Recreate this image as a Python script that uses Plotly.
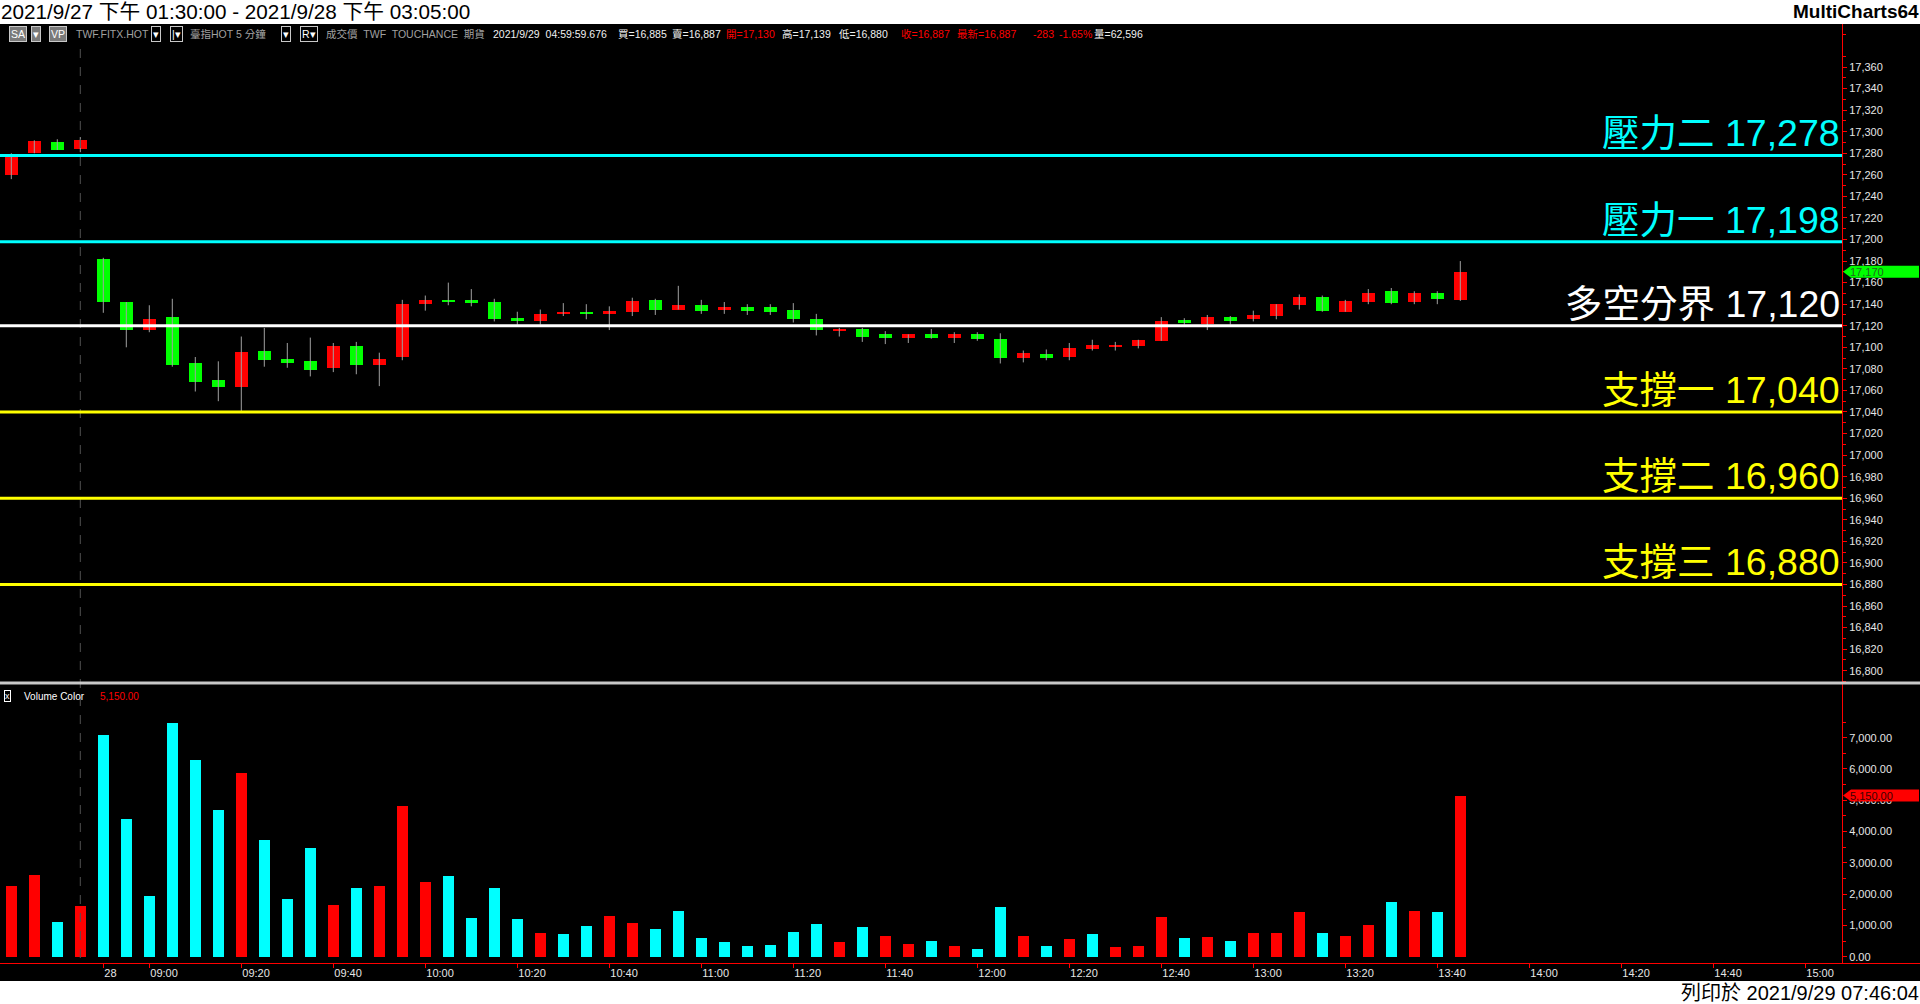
import plotly.graph_objects as go

W, H = 1920, 1004

# ---------------- data ----------------
prev_times = ["13:30", "13:35", "13:40", "13:45"]          # 2021/9/27 session tail

opens = [17260, 17280, 17290, 17284, 17182, 17142, 17116, 17128, 17085, 17070,
         17063, 17097, 17089, 17087, 17081, 17101, 17084, 17091, 17140, 17144,
         17144, 17142, 17127, 17124, 17131, 17133, 17131, 17133, 17144, 17135,
         17139, 17135, 17137, 17137, 17135, 17126, 17115, 17117, 17112, 17109,
         17112, 17109, 17112, 17108, 17090, 17094, 17091, 17098, 17100, 17101,
         17106, 17125, 17122, 17128, 17126, 17129, 17139, 17147, 17133, 17142,
         17152, 17142, 17150, 17144]
highs = [17280, 17292, 17293, 17295, 17183, 17142, 17139, 17145, 17091, 17087,
         17110, 17118, 17104, 17109, 17104, 17105, 17095, 17144, 17148, 17160,
         17154, 17145, 17133, 17135, 17141, 17140, 17138, 17146, 17145, 17157,
         17144, 17142, 17140, 17140, 17141, 17131, 17118, 17118, 17115, 17112,
         17117, 17114, 17114, 17113, 17097, 17098, 17104, 17107, 17105, 17107,
         17128, 17127, 17130, 17129, 17134, 17140, 17149, 17148, 17144, 17154,
         17155, 17152, 17152, 17180]
lows = [17256, 17280, 17283, 17281, 17132, 17100, 17114, 17082, 17059, 17050,
        17041, 17082, 17081, 17073, 17077, 17075, 17064, 17088, 17134, 17139,
        17138, 17124, 17121, 17121, 17129, 17126, 17116, 17129, 17130, 17135,
        17131, 17131, 17130, 17130, 17123, 17111, 17110, 17105, 17103, 17104,
        17108, 17104, 17106, 17085, 17086, 17088, 17088, 17097, 17097, 17099,
        17106, 17121, 17116, 17121, 17124, 17126, 17135, 17133, 17133, 17140,
        17140, 17140, 17140, 17143]
closes = [17277, 17291, 17283, 17292, 17142, 17116, 17126, 17084, 17068, 17063,
          17096, 17088, 17085, 17079, 17101, 17084, 17089, 17140, 17144, 17142,
          17141, 17126, 17124, 17131, 17133, 17131, 17134, 17143, 17135, 17139,
          17134, 17137, 17134, 17133, 17126, 17116, 17117, 17110, 17109, 17112,
          17109, 17112, 17108, 17090, 17095, 17090, 17099, 17102, 17102, 17107,
          17124, 17123, 17128, 17124, 17130, 17140, 17147, 17134, 17143, 17150,
          17141, 17150, 17145, 17170]

volumes = [2250, 2600, 1110, 1620, 7090, 4390, 1940, 7470, 6300, 4680,
           5880, 3720, 1840, 3470, 1650, 2190, 2260, 4830, 2390, 2580,
           1240, 2190, 1210, 760, 730, 990, 1300, 1080, 890, 1460,
           600, 480, 350, 380, 800, 1050, 480, 950, 670, 410,
           510, 350, 250, 1590, 670, 350, 570, 730, 320, 350,
           1270, 600, 640, 510, 760, 760, 1430, 760, 670, 1020,
           1750, 1460, 1430, 5150]
volume_up = [1, 1, 0, 1, 0, 0, 0, 0, 0, 0,
             1, 0, 0, 0, 1, 0, 1, 1, 1, 0,
             0, 0, 0, 1, 0, 0, 1, 1, 0, 0,
             0, 0, 0, 0, 0, 0, 1, 0, 1, 1,
             0, 1, 0, 0, 1, 0, 1, 0, 1, 1,
             1, 0, 1, 0, 1, 1, 1, 0, 1, 1,
             0, 1, 0, 1]

level_names = ["壓力二", "壓力一", "多空分界", "支撐一", "支撐二", "支撐三"]
level_values = [17278, 17198, 17120, 17040, 16960, 16880]
level_colors = ["#00ffff", "#00ffff", "#ffffff", "#ffff00", "#ffff00", "#ffff00"]

tick_times = ["08:50", "09:00", "09:20", "09:40", "10:00", "10:20", "10:40", "11:00",
              "11:20", "11:40", "12:00", "12:20", "12:40", "13:00", "13:20", "13:40",
              "14:00", "14:20", "14:40", "15:00"]
tick_labels = ["28", "09:00", "09:20", "09:40", "10:00", "10:20", "10:40", "11:00",
               "11:20", "11:40", "12:00", "12:20", "12:40", "13:00", "13:20", "13:40",
               "14:00", "14:20", "14:40", "15:00"]

price_ticks = list(range(16800, 17361, 20))
volume_ticks = list(range(0, 7001, 1000))

last_price = 17170
last_volume = 5150

# ---------------- slot axis (5-minute bars) ----------------
def hm(m):
    return "%02d:%02d" % (m // 60, m % 60)

day_slots = [hm(m) for m in range(8 * 60 + 50, 15 * 60 + 10, 5)]
slots = prev_times + day_slots
n = len(opens)
xs = list(range(n))
tick_vals = [len(prev_times) + day_slots.index(t) for t in tick_times]

# ---------------- geometry helpers ----------------
def py(p):
    return 1 - p / H

def px(p):
    return p / W

AX_X = 1842
X_RANGE = [-11.3 / 23, (AX_X - 11.3) / 23]
P_RANGE = [16788.6, 17399.9]
V_RANGE = [-201, 8748]

RED = "#ff0000"
GREEN = "#00ff00"
CYAN = "#00ffff"
FONT = "Liberation Sans, Noto Sans CJK TC, sans-serif"

fig = go.Figure()

# wicks
wx, wy = [], []
for i in range(n):
    wx += [xs[i], xs[i], None]
    wy += [lows[i], highs[i], None]
fig.add_trace(go.Scatter(x=wx, y=wy, mode="lines", line=dict(color="#a0a0a0", width=1),
                         xaxis="x", yaxis="y", hoverinfo="skip"))
# bodies
fig.add_trace(go.Bar(
    x=xs,
    base=[min(o, c) for o, c in zip(opens, closes)],
    y=[max(abs(c - o), 1.5) for o, c in zip(opens, closes)],
    width=0.565,
    marker=dict(color=[RED if c >= o else GREEN for o, c in zip(opens, closes)], line=dict(width=0)),
    xaxis="x", yaxis="y", hoverinfo="skip"))
# volume
fig.add_trace(go.Bar(
    x=xs, y=volumes, width=0.5,
    marker=dict(color=[RED if u else CYAN for u in volume_up], line=dict(width=0)),
    xaxis="x", yaxis="y2", hoverinfo="skip"))

shapes = []
# black chart band
shapes.append(dict(type="rect", xref="paper", yref="paper", x0=0, x1=1, y0=py(981), y1=py(24),
                   fillcolor="black", line=dict(width=0), layer="below"))
# session break
shapes.append(dict(type="line", xref="x", yref="paper", x0=3, x1=3, y0=py(958), y1=py(45),
                   line=dict(color="#505050", width=1, dash="dash")))
# levels
for v, c in zip(level_values, level_colors):
    shapes.append(dict(type="line", xref="paper", yref="y", x0=0, x1=px(AX_X), y0=v, y1=v,
                       line=dict(color=c, width=3)))
# panel separator
shapes.append(dict(type="line", xref="paper", yref="paper", x0=0, x1=1, y0=py(683), y1=py(683),
                   line=dict(color="#c8c8c8", width=3)))
# x axis line full width
shapes.append(dict(type="line", xref="paper", yref="paper", x0=0, x1=1, y0=py(963.5), y1=py(963.5),
                   line=dict(color=RED, width=1)))
# last value markers
marker_path = "M 1,0 L 9,6 L 77,6 L 77,-6 L 9,-6 Z"
shapes.append(dict(type="path", xref="paper", yref="y", xsizemode="pixel", ysizemode="pixel",
                   xanchor=px(AX_X), yanchor=last_price, path=marker_path,
                   fillcolor=GREEN, line=dict(width=0)))
shapes.append(dict(type="path", xref="paper", yref="y2", xsizemode="pixel", ysizemode="pixel",
                   xanchor=px(AX_X), yanchor=last_volume, path=marker_path,
                   fillcolor=RED, line=dict(width=0)))

ann = []
# level labels
for name, v, c in zip(level_names, level_values, level_colors):
    ann.append(dict(xref="paper", yref="y", x=px(1841), y=v, xanchor="right", yanchor="bottom",
                    text="%s %s" % (name, format(v, ",")), showarrow=False, borderpad=0,
                    font=dict(family=FONT, size=37.5, color=c)))
# marker texts
ann.append(dict(xref="paper", yref="y", x=px(1849), y=last_price, xanchor="left", yanchor="middle",
                text=format(last_price, ","), showarrow=False, borderpad=0,
                font=dict(family=FONT, size=11, color="#1f6a1f")))
ann.append(dict(xref="paper", yref="y2", x=px(1849), y=last_volume, xanchor="left", yanchor="middle",
                text=format(last_volume, ",.2f"), showarrow=False, borderpad=0,
                font=dict(family=FONT, size=11, color="#400000")))

# header / footer
ann.append(dict(xref="paper", yref="paper", x=0, y=py(12), xanchor="left", yanchor="middle",
                text="2021/9/27 下午 01:30:00 - 2021/9/28 下午 03:05:00", showarrow=False, borderpad=0,
                font=dict(family=FONT, size=20.7, color="black")))
ann.append(dict(xref="paper", yref="paper", x=1, y=py(12), xanchor="right", yanchor="middle",
                text="<b>MultiCharts64</b>", showarrow=False, borderpad=0,
                font=dict(family=FONT, size=19, color="black")))
ann.append(dict(xref="paper", yref="paper", x=1, y=py(993), xanchor="right", yanchor="middle",
                text="列印於 2021/9/29 07:46:04", showarrow=False, borderpad=0,
                font=dict(family=FONT, size=20, color="black")))

# toolbar
GRAY = "#a0a0a0"
WHITE = "#f0f0f0"
toolbar = [
    (9, "SA", "#ffffff", "#7a7a7a"), (31, "▾", "#ffffff", "#7a7a7a"),
    (49, "VP", "#ffffff", "#7a7a7a"),
    (75, "TWF.FITX.HOT", GRAY, None),
    (151, "▾", "#ffffff", "#000000"), (170, "|▾", "#ffffff", "#000000"),
    (189, "臺指HOT 5 分鐘", GRAY, None),
    (281, "▾", "#ffffff", "#000000"), (300, "R▾", "#ffffff", "#000000"),
    (325, "成交價  TWF  TOUCHANCE  期貨", GRAY, None),
    (492, "2021/9/29  04:59:59.676", WHITE, None),
    (617, "買=16,885", WHITE, None),
    (671, "賣=16,887", WHITE, None),
    (725, "開=17,130", RED, None),
    (781, "高=17,139", WHITE, None),
    (838, "低=16,880", WHITE, None),
    (900, "收=16,887", RED, None),
    (956, "最新=16,887", RED, None),
    (1032, "-283", RED, None),
    (1058, "-1.65%", RED, None),
    (1093, "量=62,596", WHITE, None),
]
for x0, t, col, bg in toolbar:
    d = dict(xref="paper", yref="paper", x=px(x0), y=py(34), xanchor="left", yanchor="middle",
             text=t, showarrow=False, borderpad=0,
             font=dict(family=FONT, size=10.5, color=col))
    if bg is not None:
        d.update(bgcolor=bg, bordercolor="#c8c8c8", borderwidth=1, borderpad=1)
    ann.append(d)

# volume panel header
ann.append(dict(xref="paper", yref="paper", x=px(4), y=py(696), xanchor="left", yanchor="middle",
                text="x", showarrow=False, borderpad=0, bordercolor="#ffffff", borderwidth=1,
                font=dict(family=FONT, size=9, color="#ffffff")))
ann.append(dict(xref="paper", yref="paper", x=px(23), y=py(696), xanchor="left", yanchor="middle",
                text="Volume Color", showarrow=False, borderpad=0,
                font=dict(family=FONT, size=10, color="#ffffff")))
ann.append(dict(xref="paper", yref="paper", x=px(99), y=py(696), xanchor="left", yanchor="middle",
                text=format(last_volume, ",.2f"), showarrow=False, borderpad=0,
                font=dict(family=FONT, size=10, color=RED)))

axis_font = dict(family=FONT, size=11, color="#e6e6e6")

fig.update_layout(
    width=W, height=H,
    margin=dict(l=0, r=0, t=0, b=0, pad=0),
    paper_bgcolor="white", plot_bgcolor="black",
    showlegend=False, barmode="overlay", bargap=0,
    xaxis=dict(domain=[0, px(AX_X)], range=X_RANGE, anchor="y2",
               tickmode="array", tickvals=tick_vals, ticktext=tick_labels,
               ticks="outside", ticklen=4, tickcolor=RED, tickwidth=1,
               ticklabelposition="outside right",
               tickfont=axis_font, showgrid=False, zeroline=False,
               showline=True, linecolor=RED, linewidth=1),
    yaxis=dict(domain=[py(683), py(24)], range=P_RANGE, side="right", anchor="x",
               tickmode="array", tickvals=price_ticks,
               ticktext=[format(v, ",") for v in price_ticks],
               ticks="outside", ticklen=4, tickcolor=RED, tickwidth=1,
               minor=dict(tickvals=[v + 10 for v in range(16780, 17400, 20)], ticks="outside",
                          ticklen=3, tickcolor=RED, tickwidth=1, showgrid=False),
               tickfont=axis_font, showgrid=False, zeroline=False,
               showline=True, linecolor=RED, linewidth=1),
    yaxis2=dict(domain=[py(963), py(683)], range=V_RANGE, side="right", anchor="x",
                tickmode="array", tickvals=volume_ticks,
                ticktext=[format(v, ",.2f") for v in volume_ticks],
                ticks="outside", ticklen=4, tickcolor=RED, tickwidth=1,
                minor=dict(tickvals=[v + 500 for v in range(0, 8000, 1000)], ticks="outside",
                           ticklen=3, tickcolor=RED, tickwidth=1, showgrid=False),
                tickfont=axis_font, showgrid=False, zeroline=False,
                showline=True, linecolor=RED, linewidth=1),
    shapes=shapes,
    annotations=ann,
)

fig.write_html("out.html",
               config={"displayModeBar": False, "staticPlot": False},
               post_script="document.body.style.margin='0px';document.body.style.overflow='hidden';")
